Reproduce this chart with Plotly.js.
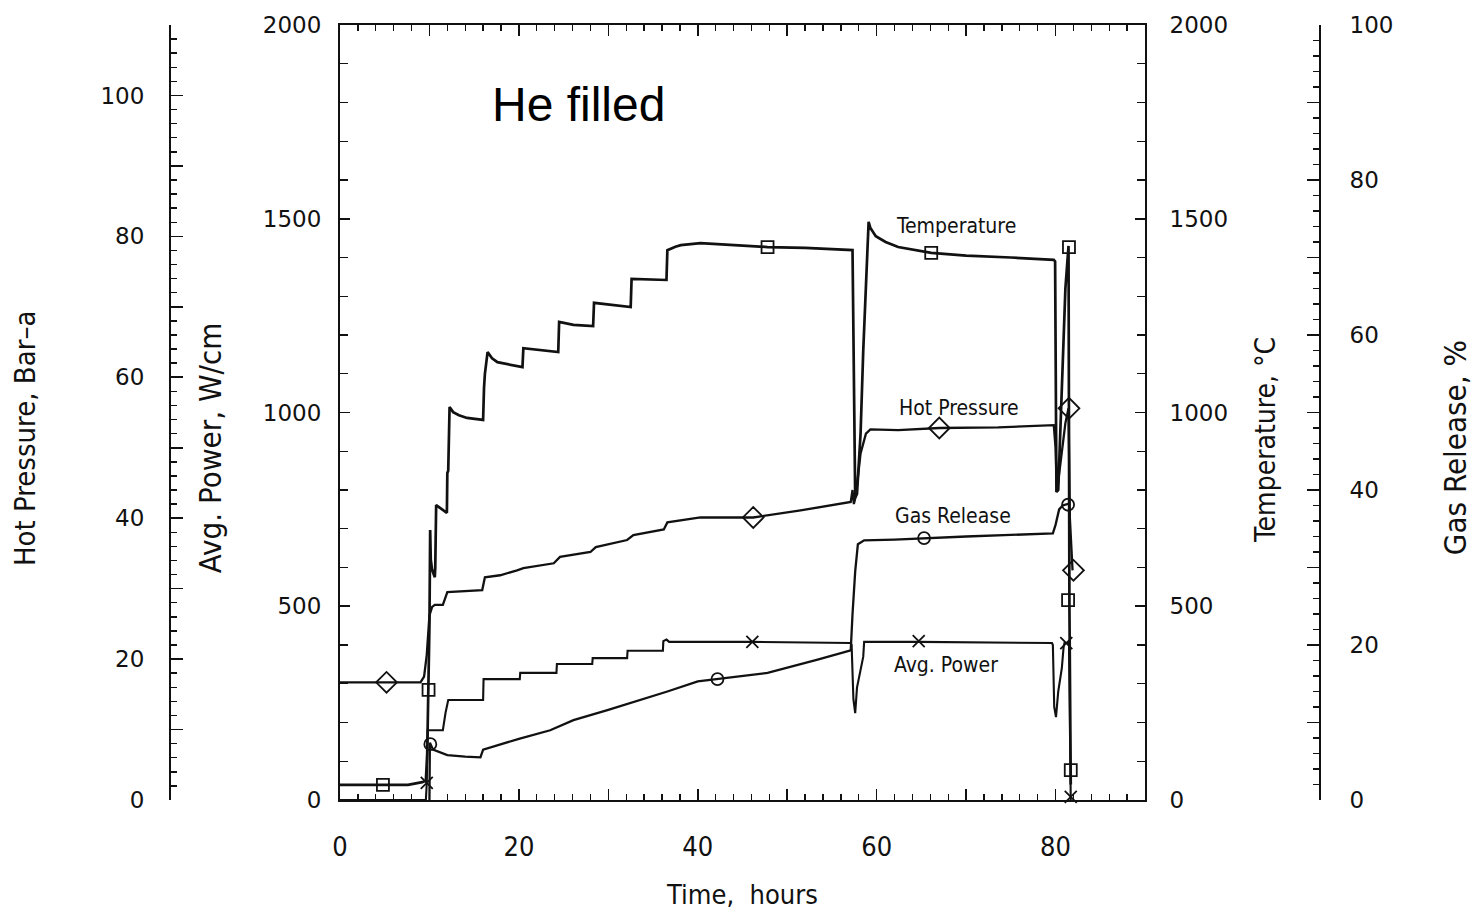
<!DOCTYPE html>
<html>
<head>
<meta charset="utf-8">
<script src="https://cdn.plot.ly/plotly-3.0.1.min.js"></script>
<style>
  html, body { margin: 0; padding: 0; background: #ffffff; }
  #chart { width: 1472px; height: 918px; }
</style>
</head>
<body>
<div id="chart"></div>
<script>
// Rod power history, He-filled rod: four channels against time

// Temperature, deg C
const tempTime = [0, 7.6, 9.2, 9.6, 9.75, 9.9, 10.0, 10.08, 10.15, 10.3, 10.6, 10.65, 10.75, 11.95, 12.0, 12.1, 12.25,
  12.65, 13.3, 14.2, 16.0, 16.1, 16.2, 16.5, 17.0, 17.6, 19.0, 20.4, 20.5, 24.4, 24.5, 26.1, 28.3, 28.4, 32.5, 32.6,
  36.5, 36.6, 37.5, 38.1, 40.3, 44.0, 47.8, 52.0, 57.3, 57.45, 57.6, 57.8, 58.2, 58.5, 58.8, 59.1, 59.3, 59.9, 61.0,
  62.4, 66.1, 70.0, 75.0, 79.8, 79.95, 80.1, 80.3, 80.6, 80.9, 81.1, 81.45, 81.55, 81.7];
const tempValue = [39, 39, 46, 50, 120, 284, 450, 697, 620, 594, 575, 600, 761, 741, 844, 850, 1014,
  1001, 993, 986, 981, 1063, 1100, 1156, 1140, 1130, 1123, 1117, 1166, 1156, 1234, 1226, 1223, 1283, 1272, 1345,
  1342, 1419, 1428, 1432, 1437, 1432, 1427, 1425, 1419, 1100, 780, 790, 945, 1160, 1330, 1492, 1476, 1455, 1440,
  1427, 1412, 1405, 1400, 1394, 1390, 795, 800, 1010, 1200, 1320, 1430, 500, 40];

// Average linear power, W/cm
const powerTime = [0, 9.6, 9.7, 9.8, 11.5, 11.7, 11.8, 12.1, 16.0, 16.05, 20.1, 20.15, 24.2, 24.25, 28.2, 28.25,
  32.1, 32.15, 36.1, 36.15, 36.5, 36.8, 46.1, 57.1, 57.2, 57.4, 57.6, 57.8, 58.3, 58.5, 58.6, 64.7, 79.6, 79.7,
  79.85, 80.05, 80.3, 80.7, 80.9, 81.0, 81.5, 81.6, 81.7];
const powerValue = [0, 0, 44, 180, 180, 215, 225, 258, 258, 312, 312, 328, 328, 351, 351, 366,
  366, 385, 385, 410, 414, 408, 408, 405, 400, 260, 224, 290, 343, 370, 408, 408, 405, 400,
  240, 214, 280, 340, 395, 405, 405, 200, 0];

// Hot plenum pressure, bar absolute
const pressTime = [0, 9.0, 9.4, 9.7, 10.0, 10.3, 10.6, 11.5, 12.0, 15.9, 16.2, 17.9, 19.8, 20.5, 23.9, 24.6, 28.0,
  28.6, 32.1, 32.8, 36.2, 36.6, 40.3, 46.2, 51.5, 57.1, 57.3, 57.45, 57.6, 57.7, 58.2, 58.8, 59.3, 62.4, 67.0,
  73.6, 79.8, 80.0, 80.15, 80.4, 80.8, 81.1, 81.45, 81.6, 81.9];
const pressValue = [16.7, 16.7, 17.5, 20.6, 26.2, 27.4, 27.7, 27.7, 29.5, 29.8, 31.6, 31.9, 32.6, 32.9, 33.6, 34.5, 35.2,
  35.9, 36.9, 37.6, 38.4, 39.4, 40.1, 40.1, 41.1, 42.3, 44.0, 42.0, 42.8, 43.5, 49.2, 52.0, 52.6, 52.5, 52.8,
  52.9, 53.2, 50.0, 43.7, 46.5, 50.5, 53.5, 55.6, 40.0, 32.6];

// Fission gas release, %
const gasTime = [10.0, 10.05, 10.4, 11.0, 12.0, 14.0, 15.7, 16.0, 18.0, 20.0, 23.5, 26.1, 29.9, 33.6, 36.6, 40.0,
  42.2, 47.8, 53.4, 57.1, 57.3, 57.6, 57.9, 58.6, 62.0, 65.3, 70.0, 75.0, 79.7, 80.0, 80.4, 80.8, 81.4];
const gasValue = [0, 7.4, 6.5, 6.2, 5.8, 5.6, 5.5, 6.5, 7.2, 7.9, 9.0, 10.3, 11.6, 12.9, 14.0, 15.3,
  15.6, 16.4, 18.1, 19.3, 24.0, 29.5, 33.0, 33.5, 33.6, 33.8, 34.0, 34.2, 34.4, 35.5, 37.5, 38.0, 38.2];

// Symbol positions identifying each curve
const tempMarkTime = [4.8, 9.9, 47.8, 66.1, 81.5, 81.4, 81.7];
const tempMarkValue = [39, 284, 1427, 1412, 1427, 516, 77];
const pressMarkTime = [5.2, 46.2, 67.0, 81.5, 82.0];
const pressMarkValue = [16.7, 40.1, 52.8, 55.6, 32.6];
const gasMarkTime = [10.1, 42.2, 65.3, 81.4];
const gasMarkValue = [7.2, 15.6, 33.8, 38.1];
const powerMarkTime = [9.7, 46.1, 64.7, 81.2, 81.7];
const powerMarkValue = [44, 408, 410, 405, 8];

// Axis tick labels
const timeTicks = [0, 10, 20, 30, 40, 50, 60, 70, 80, 90];
const timeLabels = ['0', '', '20', '', '40', '', '60', '', '80', ''];
const kiloTicks = [0, 500, 1000, 1500, 2000];
const kiloLabels = ['0', '500', '1000', '1500', '2000'];
const pressTicks = [0, 10, 20, 30, 40, 50, 60, 70, 80, 90, 100, 110];
const pressLabels = ['0', '', '20', '', '40', '', '60', '', '80', '', '100', ''];
const gasTicks = [0, 10, 20, 30, 40, 50, 60, 70, 80, 90, 100];
const gasLabels = ['0', '', '20', '', '40', '', '60', '', '80', '', '100'];

// Curve captions
const captionText = ['Temperature', 'Hot Pressure', 'Gas Release', 'Avg. Power'];
const captionTime = [68.9, 69.2, 68.5, 67.75];
const captionValue = [1481, 1012, 733, 348];

// Vertical axis names (set beside each scale)
const axisNames = ['Hot Pressure, Bar–a', 'Avg. Power, W/cm', 'Temperature, °C', 'Gas Release, %'];

const INK = '#111111';
const NARROW = '"Liberation Sans Narrow", "DejaVu Sans Condensed", Arial, sans-serif';
const ROUND = '"DejaVu Sans", Arial, sans-serif';

const W = 1472, H = 918;
const plotLeft = 340, plotRight = 1145;

// horizontal centre (px) and font size of each vertical axis name
const axisNameX = [25, 210, 1265, 1455];
const axisNameSize = [29, 31, 28, 31];
const axisNameLevel = [934, 908, 929, 908];   // in W/cm units of the main scale

function lineTrace(x, y, axis, width) {
  return { x: x, y: y, yaxis: axis, type: 'scatter', mode: 'lines',
    line: { color: INK, width: width }, hoverinfo: 'skip' };
}
function markTrace(x, y, axis, symbol, size) {
  return { x: x, y: y, yaxis: axis, type: 'scatter', mode: 'markers', cliponaxis: false,
    marker: { symbol: symbol, size: size, color: INK,
      line: { color: INK, width: 1.8 } }, hoverinfo: 'skip' };
}

const traces = [
  lineTrace(tempTime, tempValue, 'y2', 2.7),
  lineTrace(powerTime, powerValue, 'y', 2.1),
  lineTrace(pressTime, pressValue, 'y3', 2.3),
  lineTrace(gasTime, gasValue, 'y4', 2.3),
  markTrace(tempMarkTime, tempMarkValue, 'y2', 'square-open', 12),
  markTrace(pressMarkTime, pressMarkValue, 'y3', 'diamond-open', 16),
  markTrace(gasMarkTime, gasMarkValue, 'y4', 'circle-open', 12),
  markTrace(powerMarkTime, powerMarkValue, 'y', 'x-thin-open', 12)
];

const minorInside = (step, len) => ({ dtick: step, ticks: 'inside', ticklen: len, tickwidth: 1.4, tickcolor: INK, showgrid: false });

const valueAxisBase = {
  showgrid: false, zeroline: false, showline: true, linecolor: INK, linewidth: 2,
  ticks: 'inside', tickcolor: INK, tickwidth: 1.6, tickmode: 'array', fixedrange: true
};

const captionNotes = captionText.map((txt, i) => ({
  text: txt, x: captionTime[i], y: captionValue[i], xref: 'x', yref: 'y',
  showarrow: false, font: { family: NARROW, size: 21, color: INK }
}));
const axisNameNotes = axisNames.map((txt, i) => ({
  text: txt, x: axisNameX[i] / W, y: axisNameLevel[i], xref: 'paper', yref: 'y',
  xanchor: 'center', yanchor: 'middle', textangle: -90, showarrow: false,
  font: { family: NARROW, size: axisNameSize[i], color: INK }
}));

const layout = {
  width: W, height: H,
  margin: { l: 0, r: 0, t: 25, b: 118 },
  paper_bgcolor: '#ffffff', plot_bgcolor: '#ffffff',
  showlegend: false,
  font: { color: INK },
  xaxis: {
    domain: [plotLeft / W, plotRight / W], range: [0, 90],
    showgrid: false, zeroline: false, showline: true, linecolor: INK, linewidth: 2,
    mirror: 'ticks', ticks: 'inside', ticklen: 11, tickwidth: 1.6, tickcolor: INK,
    tickmode: 'array', tickvals: timeTicks, ticktext: timeLabels,
    minor: minorInside(2, 6),
    tickfont: { family: NARROW, size: 27, color: INK }, ticklabelstandoff: 22,
    title: { text: 'Time,  hours', font: { family: NARROW, size: 27, color: INK }, standoff: 24 },
    fixedrange: true
  },
  yaxis: Object.assign({}, valueAxisBase, {
    range: [0, 2000], side: 'left', anchor: 'x',
    tickvals: kiloTicks, ticktext: kiloLabels, ticklen: 10,
    minor: minorInside(100, 8),
    tickfont: { family: ROUND, size: 23, color: INK }, ticklabelstandoff: 12
  }),
  yaxis2: Object.assign({}, valueAxisBase, {
    range: [0, 2000], side: 'right', anchor: 'x', overlaying: 'y',
    tickvals: kiloTicks, ticktext: kiloLabels, ticklen: 10,
    minor: minorInside(100, 8),
    tickfont: { family: ROUND, size: 23, color: INK }, ticklabelstandoff: 18
  }),
  yaxis3: Object.assign({}, valueAxisBase, {
    range: [0, 110], side: 'left', anchor: 'free', overlaying: 'y', position: 170 / W,
    tickvals: pressTicks, ticktext: pressLabels, ticklen: 12,
    minor: minorInside(2, 6),
    tickfont: { family: ROUND, size: 23, color: INK }, ticklabelstandoff: 20
  }),
  yaxis4: Object.assign({}, valueAxisBase, {
    range: [0, 100], side: 'right', anchor: 'free', overlaying: 'y', position: 1320 / W,
    tickvals: gasTicks, ticktext: gasLabels, ticklen: 12,
    minor: minorInside(2, 6),
    tickfont: { family: ROUND, size: 23, color: INK }, ticklabelstandoff: 24
  }),
  annotations: captionNotes.concat(axisNameNotes).concat([{
    text: 'He filled', x: 26.65, y: 1794, xref: 'x', yref: 'y', showarrow: false,
    font: { family: '"Liberation Sans", Arial, sans-serif', size: 48, color: '#000000' }
  }])
};

Plotly.newPlot('chart', traces, layout, { displayModeBar: false, staticPlot: true });
</script>
</body>
</html>
